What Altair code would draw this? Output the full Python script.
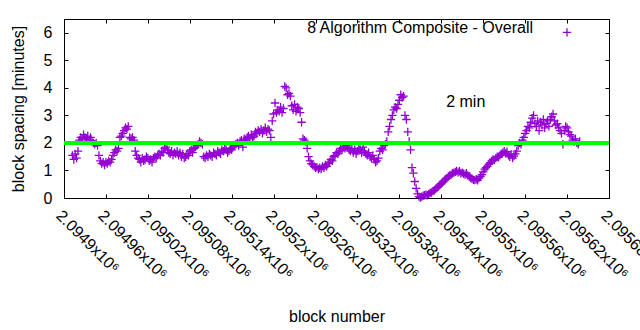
import altair as alt
import pandas as pd

# ---- data ----
BLOCK_START = 2094912
BLOCK_STEP = 2
SPACING = [
    1.55, 1.40, 1.60, 1.45, 1.70,
    2.10, 2.20, 2.15, 2.30, 2.20, 2.15, 2.25, 2.10, 2.20, 2.05,
    2.00, 1.95, 2.00, 1.90, 1.55,
    1.35, 1.25, 1.30, 1.20, 1.30, 1.25, 1.35, 1.30,
    1.40, 1.55, 1.65, 1.75, 1.70,
    1.80, 2.20, 2.25, 2.35, 2.45, 2.55, 2.50, 2.60,
    2.20, 2.15, 2.20, 2.10, 1.70,
    1.55, 1.45, 1.40, 1.30, 1.45, 1.35, 1.40, 1.50, 1.45, 1.35, 1.40, 1.30, 1.45, 1.50,
    1.45, 1.55, 1.60, 1.55, 1.70, 1.65, 1.80,
    1.85, 1.75, 1.65, 1.60, 1.70, 1.55, 1.65, 1.60, 1.70, 1.55, 1.65, 1.50, 1.60, 1.45,
    1.50, 1.60, 1.55, 1.70, 1.75, 1.65, 1.80, 1.85, 1.90, 1.95,
    2.05, 2.00, 1.95, 1.50,
    1.45, 1.55, 1.50, 1.60, 1.55, 1.50, 1.65, 1.60, 1.55, 1.70, 1.65, 1.60, 1.75, 1.70,
    1.80, 1.75, 1.65, 1.70, 1.80, 1.75, 1.85, 1.90,
    1.95, 2.00, 1.90, 2.05, 2.10, 1.85, 2.15, 2.10,
    2.20, 2.25, 2.15, 2.30, 2.20, 2.25, 2.40, 2.35,
    2.45, 2.40, 2.50, 2.35, 2.45, 2.55, 2.40, 2.50, 2.45,
    2.20, 2.80, 3.05, 3.45, 3.10,
    3.20, 3.15, 3.30, 3.10, 3.25,
    4.05, 4.00, 3.75, 3.80, 3.70,
    3.35, 3.20, 3.40, 3.15, 3.30, 3.25, 3.10, 2.75,
    2.15, 2.10, 2.05, 1.80,
    1.50, 1.35, 1.25, 1.20, 1.15, 1.10, 1.12, 1.05,
    1.10, 1.05, 1.15, 1.10, 1.20, 1.15, 1.25,
    1.30, 1.40, 1.35, 1.50, 1.55, 1.65, 1.60,
    1.70, 1.80, 1.75, 1.85, 1.80, 1.90, 1.85,
    1.75, 1.70, 1.80, 1.65, 1.75, 1.60, 1.70, 1.80, 1.75, 1.65, 1.85, 1.70, 1.60, 1.55, 1.65,
    1.50, 1.45, 1.55, 1.40, 1.30, 1.35, 1.45, 1.70,
    1.80, 1.75, 1.90, 1.95, 2.05, 2.40,
    2.60, 2.85, 3.00, 3.20, 3.30, 3.25, 3.40,
    3.55, 3.75, 3.65, 3.70,
    3.00, 2.85, 2.40, 2.05,
    1.75, 1.10, 0.90, 0.60,
    0.35, 0.15, 0.05, 0.02,
    0.05, 0.08, 0.10, 0.12, 0.10, 0.15, 0.18, 0.20, 0.25,
    0.28, 0.33, 0.38, 0.42, 0.48, 0.52, 0.58, 0.62, 0.68, 0.72,
    0.78, 0.82, 0.85, 0.90, 0.92, 0.95, 0.98, 0.93, 0.97, 0.90,
    0.92, 0.88, 0.85, 0.90, 0.82, 0.78, 0.72,
    0.70, 0.66, 0.65, 0.68, 0.64, 0.72, 0.78,
    0.85, 0.95, 1.05, 1.10, 1.15, 1.22, 1.28, 1.35,
    1.40, 1.38, 1.45, 1.50, 1.48, 1.55, 1.60, 1.65,
    1.70, 1.62, 1.68, 1.55, 1.50, 1.58, 1.45, 1.52, 1.60, 1.70,
    1.90, 2.00, 1.95, 2.10, 2.20,
    2.35, 2.45, 2.60, 2.55, 2.75, 2.90, 3.00,
    2.70, 2.60, 2.80, 2.45, 2.75, 2.65, 2.85, 2.55, 2.70, 2.80, 2.60, 2.85, 2.95, 3.05,
    2.80, 2.65, 2.70, 2.55, 2.45, 2.35, 1.95,
    2.45, 2.60, 2.55, 2.40, 2.30, 2.25, 2.10,
    2.05, 2.15, 2.00, 1.95, 2.05,
]
BLOCKS = [BLOCK_START + BLOCK_STEP * i for i in range(len(SPACING))]

X_DOMAIN = [2094900, 2095680]
Y_DOMAIN = [0, 6.5]
X_TICKS = [2094900, 2094960, 2095020, 2095080, 2095140, 2095200, 2095260,
           2095320, 2095380, 2095440, 2095500, 2095560, 2095620, 2095680]
X_TICK_LABELS = ["2.0949x10⁶", "2.09496x10⁶", "2.09502x10⁶", "2.09508x10⁶",
                 "2.09514x10⁶", "2.0952x10⁶", "2.09526x10⁶", "2.09532x10⁶",
                 "2.09538x10⁶", "2.09544x10⁶", "2.0955x10⁶", "2.09556x10⁶",
                 "2.09562x10⁶", "2.09568x10⁶"]
Y_TICKS = [0, 1, 2, 3, 4, 5, 6]

REF_LEVEL = [2.0]
REF_LABEL = ["2 min"]
REF_LABEL_X = [2095475]
REF_LABEL_Y = [3.5]
SERIES_NAME = ["8 Algorithm Composite - Overall"]

X_TITLE = "block number"
Y_TITLE = "block spacing [minutes]"

# ---- style ----
PURPLE = "#9400D3"
GREEN = "#00FF00"
FONT = "Liberation Sans"
PLUS = "M-1,0L1,0M0,-1L0,1"

df = pd.DataFrame({"block": BLOCKS, "spacing": SPACING})
df_line = pd.DataFrame({"x": [X_DOMAIN[0]], "x2": [X_DOMAIN[1]], "level": REF_LEVEL})
df_txt = pd.DataFrame({"x": REF_LABEL_X, "y": REF_LABEL_Y, "t": REF_LABEL})
df_leg = pd.DataFrame({"name": SERIES_NAME})

label_expr = ("[" + ",".join(f"'{l}'" for l in X_TICK_LABELS) + "][indexof(["
              + ",".join(str(v) for v in X_TICKS) + "], datum.value)]")

x_scale = alt.Scale(domain=X_DOMAIN, nice=False, zero=False)
y_scale = alt.Scale(domain=Y_DOMAIN, nice=False, zero=False)

tick_common = dict(labels=False, domain=False, grid=False, ticks=True,
                   tickSize=4, offset=-4, title="", tickColor="black", tickWidth=1)

points = alt.Chart(df).mark_point(
    shape=PLUS, filled=False, size=70, strokeWidth=1.3, color=PURPLE, opacity=1
).encode(
    x=alt.X("block:Q", scale=x_scale, axis=alt.Axis(
        orient="bottom", values=X_TICKS, labelExpr=label_expr, labelAngle=45,
        labelAlign="left", labelBaseline="top", labelPadding=9, ticks=False,
        domain=False, grid=False, labelFlush=False, labelOverlap=False,
        title=X_TITLE, titleY=123, titleBaseline="alphabetic")),
    y=alt.Y("spacing:Q", scale=y_scale, axis=alt.Axis(
        orient="left", values=Y_TICKS, ticks=False, domain=False, grid=False,
        labelPadding=12, title=Y_TITLE, titleX=-46, titleY=89.5,
        titleAlign="center", titleBaseline="middle")),
)

ref_line = alt.Chart(df_line).mark_rule(color=GREEN, strokeWidth=4).encode(
    x=alt.X("x:Q", scale=x_scale, axis=alt.Axis(orient="bottom", values=X_TICKS, **tick_common)),
    x2="x2:Q",
    y=alt.Y("level:Q", scale=y_scale, axis=alt.Axis(orient="left", values=Y_TICKS, **tick_common)),
)

ref_text = alt.Chart(df_txt).mark_text(
    font=FONT, fontSize=16, color="black", align="center", baseline="middle"
).encode(
    x=alt.X("x:Q", scale=x_scale, axis=alt.Axis(orient="top", values=X_TICKS, **tick_common)),
    y=alt.Y("y:Q", scale=y_scale, axis=alt.Axis(orient="right", values=Y_TICKS, **tick_common)),
    text="t:N",
)

legend_text = alt.Chart(df_leg).mark_text(
    font=FONT, fontSize=16, color="black", align="right", baseline="alphabetic"
).encode(x=alt.value(469), y=alt.value(14.2), text="name:N")

legend_mark = alt.Chart(df_leg).mark_point(
    shape=PLUS, filled=False, size=70, strokeWidth=1.3, color=PURPLE, opacity=1
).encode(x=alt.value(503), y=alt.value(13.4))

chart = alt.layer(points, ref_line, ref_text, legend_text, legend_mark).resolve_axis(
    x="independent", y="independent"
).properties(
    width=545, height=179,
    autosize=alt.AutoSizeParams(type="none"),
    padding={"left": 64, "top": 19, "right": 31, "bottom": 132},
    background="white",
).configure_view(stroke="black", strokeWidth=1).configure_axis(
    labelFont=FONT, titleFont=FONT, labelFontSize=16, titleFontSize=16,
    labelColor="black", titleColor="black", titleFontWeight="normal",
    tickColor="black", grid=False,
)

chart.save("out.html", embed_options={"renderer": "svg", "actions": False})
